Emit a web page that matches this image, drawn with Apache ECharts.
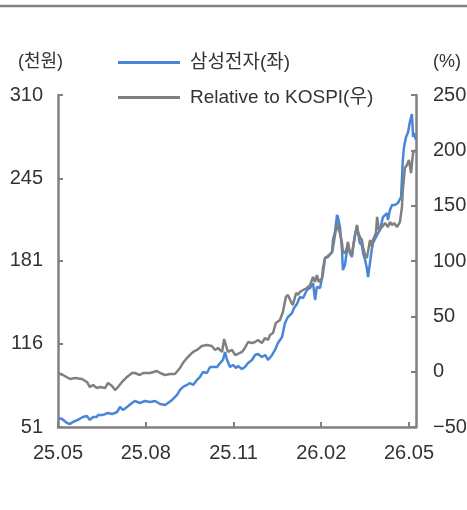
<!DOCTYPE html>
<html>
<head>
<meta charset="utf-8">
<script src="https://cdn.jsdelivr.net/npm/echarts@6/dist/echarts.min.js"></script>
<style>
  html, body { margin: 0; padding: 0; background: #fff; }
  #chart { width: 467px; height: 510px; }
</style>
</head>
<body>
<div id="chart"></div>
<script>
// x축: 25.05 기준 경과 개월 수
const xTickValues = [0, 3, 6, 9, 12];
const xTickLabels = ['25.05', '25.08', '25.11', '26.02', '26.05'];
const leftTicks = [51, 116, 181, 245, 310];

// 삼성전자 주가 (천원, 좌축)
const samsungT = [0, 0.14, 0.31, 0.41, 0.51, 0.68, 0.85, 0.99, 1.09, 1.2, 1.33, 1.37, 1.54, 1.71, 1.85, 2.02, 2.12, 2.22, 2.36, 2.53, 2.63, 2.8, 2.97, 3.15, 3.32, 3.49, 3.66, 3.76, 3.9, 4.07, 4.17, 4.27, 4.41, 4.51, 4.62, 4.75, 4.85, 4.96, 5.09, 5.2, 5.3, 5.44, 5.54, 5.64, 5.71, 5.78, 5.88, 5.98, 6.09, 6.15, 6.29, 6.39, 6.5, 6.63, 6.74, 6.84, 6.97, 7.08, 7.18, 7.32, 7.42, 7.52, 7.66, 7.76, 7.86, 8.0, 8.07, 8.17, 8.27, 8.38, 8.51, 8.62, 8.72, 8.79, 8.85, 8.96, 9.06, 9.13, 9.23, 9.37, 9.4, 9.47, 9.54, 9.57, 9.64, 9.71, 9.74, 9.81, 9.88, 9.91, 9.98, 10.05, 10.09, 10.15, 10.22, 10.26, 10.32, 10.39, 10.43, 10.5, 10.56, 10.6, 10.67, 10.74, 10.77, 10.91, 11.01, 11.11, 11.25, 11.28, 11.35, 11.42, 11.52, 11.62, 11.73, 11.76, 11.79, 11.83, 11.9, 11.97, 12.03, 12.1, 12.14, 12.17, 12.24];
const samsungV = [58.0, 57.2, 54.1, 53.3, 54.9, 56.5, 58.8, 59.6, 56.5, 58.8, 58.8, 60.4, 60.4, 61.9, 61.1, 62.7, 66.6, 64.3, 66.6, 69.7, 71.3, 69.7, 71.3, 70.5, 71.3, 68.9, 68.2, 69.7, 72.1, 76.0, 79.9, 82.2, 83.8, 85.3, 83.8, 87.7, 90.0, 93.9, 93.1, 97.8, 97.8, 97.8, 100.9, 103.3, 109.5, 103.3, 97.8, 99.4, 97.0, 98.6, 96.2, 97.8, 100.9, 103.3, 107.2, 107.9, 105.6, 107.2, 103.3, 107.2, 111.1, 116.5, 121.2, 132.1, 136.8, 139.9, 143.8, 147.0, 152.4, 151.6, 157.9, 159.4, 163.3, 150.1, 160.2, 159.4, 171.1, 182.8, 183.6, 187.5, 196.9, 203.1, 216.4, 214.8, 207.0, 189.1, 173.5, 177.4, 189.1, 193.0, 186.7, 183.6, 191.4, 200.8, 207.0, 202.3, 194.5, 193.0, 186.7, 181.3, 175.0, 168.0, 179.7, 191.4, 194.5, 200.8, 204.7, 214.8, 217.9, 212.5, 220.3, 224.2, 224.2, 225.7, 230.4, 229.6, 259.3, 269.4, 277.2, 281.1, 288.9, 295.2, 277.2, 280.3, 274.9];

// KOSPI 대비 상대수익률 (%, 우축)
const relT = [0, 0.17, 0.41, 0.58, 0.82, 0.99, 1.09, 1.2, 1.33, 1.44, 1.61, 1.71, 1.85, 1.95, 2.05, 2.19, 2.36, 2.53, 2.63, 2.8, 2.91, 3.15, 3.38, 3.49, 3.66, 3.83, 4.0, 4.17, 4.27, 4.41, 4.51, 4.62, 4.75, 4.92, 5.09, 5.26, 5.37, 5.47, 5.61, 5.68, 5.74, 5.81, 5.95, 6.05, 6.15, 6.29, 6.39, 6.5, 6.63, 6.74, 6.84, 6.97, 7.08, 7.18, 7.25, 7.35, 7.45, 7.59, 7.69, 7.79, 7.86, 7.97, 8.03, 8.14, 8.21, 8.27, 8.38, 8.51, 8.62, 8.72, 8.79, 8.85, 8.92, 9.03, 9.06, 9.13, 9.23, 9.37, 9.4, 9.47, 9.54, 9.57, 9.64, 9.71, 9.74, 9.81, 9.88, 9.91, 9.98, 10.05, 10.09, 10.15, 10.22, 10.26, 10.32, 10.39, 10.43, 10.5, 10.56, 10.6, 10.67, 10.74, 10.77, 10.87, 10.91, 10.97, 11.08, 11.18, 11.28, 11.35, 11.42, 11.49, 11.59, 11.69, 11.76, 11.79, 11.86, 11.93, 12.0, 12.07, 12.14, 12.21];
const relV = [-1.2, -3.0, -6.6, -5.7, -6.6, -9.3, -13.9, -12.0, -14.8, -13.9, -14.8, -10.2, -13.0, -16.6, -13.9, -9.3, -4.8, -1.2, -1.2, -3.0, -1.2, -1.2, 0.6, -1.2, -3.0, -2.1, -2.1, 3.3, 7.8, 12.3, 15.1, 17.8, 19.6, 23.2, 24.1, 23.2, 19.6, 21.4, 17.8, 29.5, 24.1, 17.8, 19.6, 15.1, 16.0, 17.8, 21.4, 26.8, 25.9, 26.8, 28.6, 25.9, 30.4, 28.6, 33.1, 34.9, 44.0, 46.7, 53.9, 67.5, 69.3, 63.0, 60.2, 71.1, 69.3, 72.0, 73.8, 75.6, 78.3, 85.5, 81.0, 87.3, 81.0, 84.6, 93.7, 102.7, 104.5, 108.1, 111.7, 123.5, 134.3, 129.8, 125.3, 116.3, 108.1, 107.2, 112.6, 117.2, 108.1, 105.4, 112.6, 121.7, 132.5, 126.2, 121.7, 119.0, 112.6, 105.4, 102.7, 100.9, 119.0, 112.6, 119.0, 125.3, 139.8, 128.0, 130.7, 134.3, 130.7, 135.2, 132.5, 134.3, 130.7, 135.2, 148.8, 164.2, 184.0, 186.7, 191.3, 179.5, 197.6, 200.3];

const seriesNames = ['삼성전자(좌)', 'Relative to KOSPI(우)'];
const seriesColors = ['#4a86d8', '#808080'];

const zip = (t, v) => t.map((x, i) => [x, v[i]]);

const axisGray = '#808080';
const textColor = '#333';
const fontFamily = 'Liberation Sans, Noto Sans CJK KR, sans-serif';

const chart = echarts.init(document.getElementById('chart'));

const legendCommon = {
  orient: 'vertical',
  left: 118,
  padding: 0,
  icon: 'rect',
  itemWidth: 62,
  itemHeight: 3,
  selectedMode: false,
  textStyle: { fontSize: 19, color: textColor, fontFamily: fontFamily, padding: [0, 0, 0, 5] }
};

chart.setOption({
  animation: false,
  color: seriesColors,
  grid: { left: 58, right: 51, top: 95, bottom: 83, outerBoundsMode: 'none' },
  legend: [
    Object.assign({ top: 53, data: [seriesNames[0]] }, legendCommon),
    Object.assign({ top: 88, data: [seriesNames[1]] }, legendCommon)
  ],
  graphic: [
    { type: 'line', shape: { x1: 0, y1: 6, x2: 467, y2: 6 }, style: { stroke: axisGray, lineWidth: 2.5 } },
    { type: 'text', left: 18, top: 53, style: { text: '(천원)', fontSize: 18, fill: textColor, fontFamily: fontFamily } },
    { type: 'text', left: 433, top: 53, style: { text: '(%)', fontSize: 18, fill: textColor, fontFamily: fontFamily } }
  ],
  xAxis: {
    type: 'value',
    min: 0,
    max: 12.24,
    splitLine: { show: false },
    axisLine: { onZero: false, lineStyle: { color: axisGray, width: 2.5 } },
    axisTick: { inside: true, length: 5, customValues: xTickValues, lineStyle: { color: axisGray, width: 2 } },
    axisLabel: {
      customValues: xTickValues,
      margin: 16,
      fontSize: 20,
      color: textColor,
      fontFamily: fontFamily,
      formatter: v => xTickLabels[xTickValues.indexOf(Math.round(v))] || ''
    }
  },
  yAxis: [
    {
      type: 'value',
      position: 'left',
      min: 51,
      max: 310,
      splitLine: { show: false },
      axisLine: { show: true, lineStyle: { color: axisGray, width: 2.5 } },
      axisTick: { show: true, inside: true, length: 5, customValues: leftTicks, lineStyle: { color: axisGray, width: 2 } },
      axisLabel: { customValues: leftTicks, margin: 15, fontSize: 20, color: textColor, fontFamily: fontFamily }
    },
    {
      type: 'value',
      position: 'right',
      min: -50,
      max: 250,
      interval: 50,
      splitLine: { show: false },
      axisLine: { show: true, lineStyle: { color: axisGray, width: 2.5 } },
      axisTick: { show: true, inside: true, length: 5, lineStyle: { color: axisGray, width: 2 } },
      axisLabel: {
        margin: 17,
        fontSize: 20,
        color: textColor,
        fontFamily: fontFamily,
        formatter: v => (v < 0 ? '\u2212' + Math.abs(v) : String(v))
      }
    }
  ],
  series: [
    {
      name: seriesNames[0],
      type: 'line',
      yAxisIndex: 0,
      showSymbol: false,
      data: zip(samsungT, samsungV),
      lineStyle: { width: 2.5, color: seriesColors[0] }
    },
    {
      name: seriesNames[1],
      type: 'line',
      yAxisIndex: 1,
      showSymbol: false,
      data: zip(relT, relV),
      lineStyle: { width: 2.5, color: seriesColors[1] }
    }
  ]
});

window.addEventListener('resize', () => chart.resize());
</script>
</body>
</html>
